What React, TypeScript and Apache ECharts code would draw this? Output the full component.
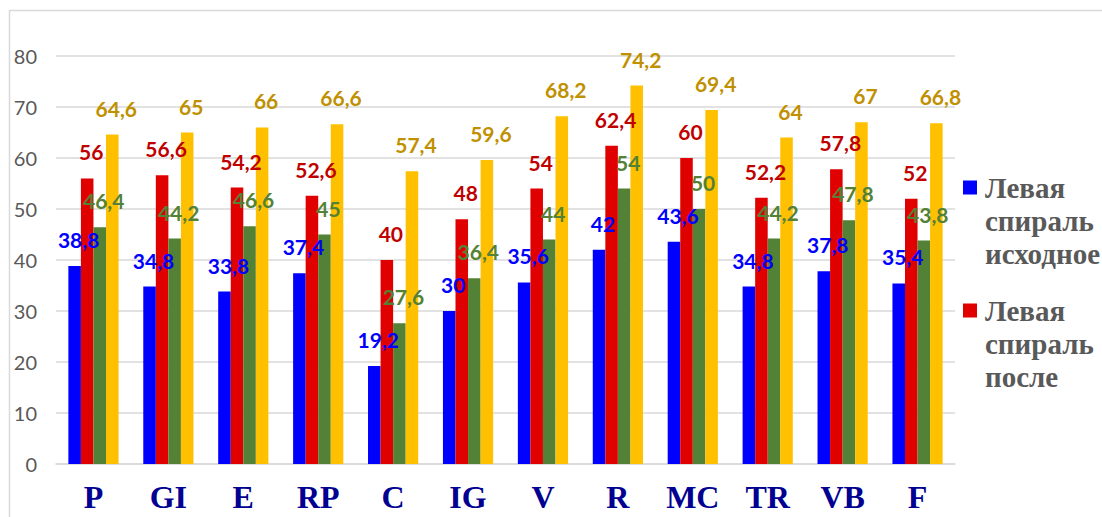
import React, { useEffect, useRef } from "react";
import * as echarts from "echarts";

const categories = ["P", "GI", "E", "RP", "C", "IG", "V", "R", "MC", "TR", "VB", "F"];
const seriesNames = [
  "Левая\nспираль\nисходное",
  "Левая\nспираль\nпосле",
  "Правая\nспираль\nисходное",
  "Правая\nспираль\nпосле",
];
const blueValues = [38.8, 34.8, 33.8, 37.4, 19.2, 30, 35.6, 42, 43.6, 34.8, 37.8, 35.4];
const redValues = [56, 56.6, 54.2, 52.6, 40, 48, 54, 62.4, 60, 52.2, 57.8, 52];
const greenValues = [46.4, 44.2, 46.6, 45, 27.6, 36.4, 44, 54, 50, 44.2, 47.8, 43.8];
const yellowValues = [64.6, 65, 66, 66.6, 57.4, 59.6, 68.2, 74.2, 69.4, 64, 67, 66.8];
const barColors = ["#0000FF", "#E00000", "#538135", "#FFC000"];
const labelColors = ["#0000FF", "#C00000", "#538135", "#BF9000"];

export default function App() {
  const ref = useRef<HTMLDivElement>(null);
  useEffect(() => {
    document.body.style.margin = "0";
    if (!ref.current) return;
    const chart = echarts.init(ref.current, null, { renderer: "svg" });
    const all = [blueValues, redValues, greenValues, yellowValues];
    chart.setOption({
      animation: false,
      backgroundColor: "#ffffff",
      graphic: [
        {
          type: "rect",
          shape: { x: 9.5, y: 10.5, width: 1200, height: 600 },
          style: { fill: "none", stroke: "#d9d9d9", lineWidth: 1.5 },
          silent: true,
        },
      ],
      grid: { left: 56, right: 147, top: 56, bottom: 53 },
      legend: {
        orient: "vertical",
        left: 958,
        top: 166,
        data: [seriesNames[0], seriesNames[1]],
        icon: "path://M0,0H14V14H0Z M14,80L14,80.01",
        itemWidth: 14,
        itemHeight: 80,
        itemGap: 24,
        textStyle: {
          fontFamily: "'Liberation Serif', 'Times New Roman', serif",
          fontWeight: "bold",
          fontSize: 29,
          lineHeight: 33,
          color: "#595959",
          padding: [0, 0, 0, 3],
        },
      },
      xAxis: {
        type: "category",
        data: categories,
        axisTick: { show: false },
        axisLine: { lineStyle: { color: "#d9d9d9", width: 1.5 } },
        axisLabel: {
          margin: 17,
          fontFamily: "'Liberation Serif', 'Times New Roman', serif",
          fontWeight: "bold",
          fontSize: 32,
          color: "#000091",
        },
      },
      yAxis: {
        type: "value",
        min: 0,
        max: 80,
        interval: 10,
        axisLine: { show: false },
        axisTick: { show: false },
        splitLine: { lineStyle: { color: "#d9d9d9", width: 1.5 } },
        axisLabel: {
          margin: 19,
          fontFamily: "Lato",
          fontSize: 20,
          color: "#595959",
        },
      },
      series: all.map((vals, i) => ({
        name: seriesNames[i],
        type: "bar",
        data: vals,
        barGap: "0%",
        barCategoryGap: "33%",
        itemStyle: { color: barColors[i] },
        label: {
          show: true,
          position: "top",
          distance: 16,
          offset: [4, 0],
          fontFamily: "Lato",
          fontWeight: "bold",
          fontSize: 21,
          color: labelColors[i],
          formatter: (p: any) => String(p.value).replace(".", ","),
        },
      })),
    });
    return () => chart.dispose();
  }, []);
  return <div ref={ref} style={{ width: 1102, height: 517 }} />;
}
